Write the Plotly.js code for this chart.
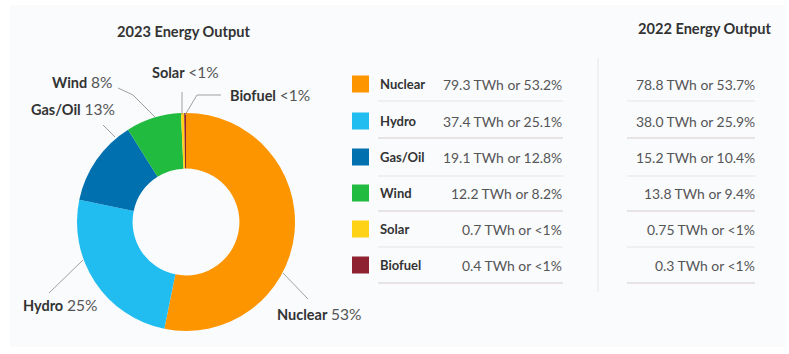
<!DOCTYPE html>
<html>
<head>
<meta charset="utf-8">
<script src="https://cdn.plot.ly/plotly-3.0.1.min.js"></script>
<style>html,body{margin:0;padding:0;background:#fff;}#chart{width:789px;height:354px;}</style>
</head>
<body>
<div id="chart"></div>
<script>
// ---- data ----
const categories = ["Nuclear", "Hydro", "Gas/Oil", "Wind", "Solar", "Biofuel"];
const output2023 = [79.3, 37.4, 19.1, 12.2, 0.7, 0.4];
const pct2023 = ["53.2%", "25.1%", "12.8%", "8.2%", "<1%", "<1%"];
const output2022 = [78.8, 38.0, 15.2, 13.8, 0.75, 0.3];
const pct2022 = ["53.7%", "25.9%", "10.4%", "9.4%", "<1%", "<1%"];
const colors = ["#fd9500", "#22bdf0", "#0070ae", "#21bb40", "#fdd217", "#8e2231"];
const title2023 = "2023 Energy Output";
const title2022 = "2022 Energy Output";

// ---- helpers ----
const W = 789, H = 354;
const px = x => x / W;
const py = y => 1 - y / H;
const fmt = v => (v < 1 ? String(v) : v.toFixed(1));
const total2023 = output2023.reduce((a, b) => a + b, 0);
const shortPct = v => { const p = v / total2023 * 100; return p < 1 ? "<1%" : Math.round(p) + "%"; };

const FONT = "Lato, 'Open Sans', sans-serif";
const annotations = [];
const shapes = [];

// background panel
shapes.push({type: "rect", xref: "paper", yref: "paper", x0: px(10), x1: px(785), y0: py(347), y1: py(5),
  fillcolor: "#f9fbfd", line: {width: 0}, layer: "below"});
// divider between tables
shapes.push({type: "line", xref: "paper", yref: "paper", x0: px(598), x1: px(598), y0: py(58), y1: py(292),
  line: {color: "#eceef1", width: 1.5}, layer: "below"});

// titles
annotations.push({text: "<b>" + title2023 + "</b>", xref: "paper", yref: "paper", x: px(183), y: py(31),
  showarrow: false, xanchor: "center", yanchor: "middle", font: {family: FONT, size: 14.6, color: "#333"}});
annotations.push({text: "<b>" + title2022 + "</b>", xref: "paper", yref: "paper", x: px(704), y: py(28),
  showarrow: false, xanchor: "center", yanchor: "middle", font: {family: FONT, size: 14.6, color: "#333"}});

// donut labels (placement per category)
const labelPos = [
  {x: 275, y: 314}, {x: 21, y: 305}, {x: 29, y: 109},
  {x: 50, y: 82}, {x: 150, y: 72}, {x: 228, y: 95}
];
const leaders = [
  [[283, 273], [308, 299]],
  [[83, 260], [49, 293]],
  [[115, 137], [103, 125]],
  [[155, 117], [133, 95], [118, 88]],
  [[182, 115], [182, 92]],
  [[185, 115], [197, 95], [221, 95]]
];
categories.forEach((c, i) => {
  annotations.push({
    text: "<b>" + c + "</b> <span style='color:#555;font-size:15.5px'>" + shortPct(output2023[i]) + "</span>",
    xref: "paper", yref: "paper", x: px(labelPos[i].x), y: py(labelPos[i].y),
    showarrow: false, xanchor: "left", yanchor: "middle",
    font: {family: FONT, size: 14.5, color: "#333"}
  });
  const pts = leaders[i];
  let path = "M" + pts.map(p => px(p[0]) + "," + py(p[1])).join(" L");
  shapes.push({type: "path", xref: "paper", yref: "paper", path: path,
    line: {color: "#a0a0a0", width: 1}});
});

// table rows
const rowY = [84, 121, 157, 193, 229, 265];
const sepY = [101, 138, 176, 211, 247, 283];
const sepCol = ["#e6e6e6", "#d8ceca", "#e6e6e6", "#d8ceca", "#e6e6e6", "#d8ceca"];
categories.forEach((c, i) => {
  const y = rowY[i];
  shapes.push({type: "rect", xref: "paper", yref: "paper", x0: px(352), x1: px(369), y0: py(y + 8.5), y1: py(y - 8.5),
    fillcolor: colors[i], line: {width: 0}});
  annotations.push({text: "<b>" + c + "</b>", xref: "paper", yref: "paper", x: px(378), y: py(y),
    showarrow: false, xanchor: "left", yanchor: "middle", font: {family: FONT, size: 13, color: "#333"}});
  annotations.push({text: fmt(output2023[i]) + " TWh or " + pct2023[i], xref: "paper", yref: "paper", x: px(564), y: py(y),
    showarrow: false, xanchor: "right", yanchor: "middle", font: {family: FONT, size: 13.9, color: "#555"}});
  annotations.push({text: fmt(output2022[i]) + " TWh or " + pct2022[i], xref: "paper", yref: "paper", x: px(757), y: py(y),
    showarrow: false, xanchor: "right", yanchor: "middle", font: {family: FONT, size: 13.9, color: "#555"}});
  shapes.push({type: "line", xref: "paper", yref: "paper", x0: px(378), x1: px(563), y0: py(sepY[i]), y1: py(sepY[i]),
    line: {color: sepCol[i], width: 1.2}});
  shapes.push({type: "line", xref: "paper", yref: "paper", x0: px(627), x1: px(755), y0: py(sepY[i]), y1: py(sepY[i]),
    line: {color: sepCol[i], width: 1.2}});
});

const trace = {
  type: "pie",
  labels: categories,
  values: output2023,
  marker: {colors: colors, line: {color: "#ffffff", width: 0}},
  hole: 0.49,
  sort: false,
  direction: "clockwise",
  rotation: 0,
  textinfo: "none",
  hoverinfo: "label+value",
  showlegend: false,
  domain: {x: [px(77), px(295)], y: [py(331), py(113)]}
};

const layout = {
  width: W, height: H,
  margin: {l: 0, r: 0, t: 0, b: 0},
  paper_bgcolor: "#ffffff",
  plot_bgcolor: "#ffffff",
  showlegend: false,
  annotations: annotations,
  shapes: shapes,
  font: {family: FONT}
};

Plotly.newPlot("chart", [trace], layout, {staticPlot: true, displayModeBar: false});
</script>
</body>
</html>
